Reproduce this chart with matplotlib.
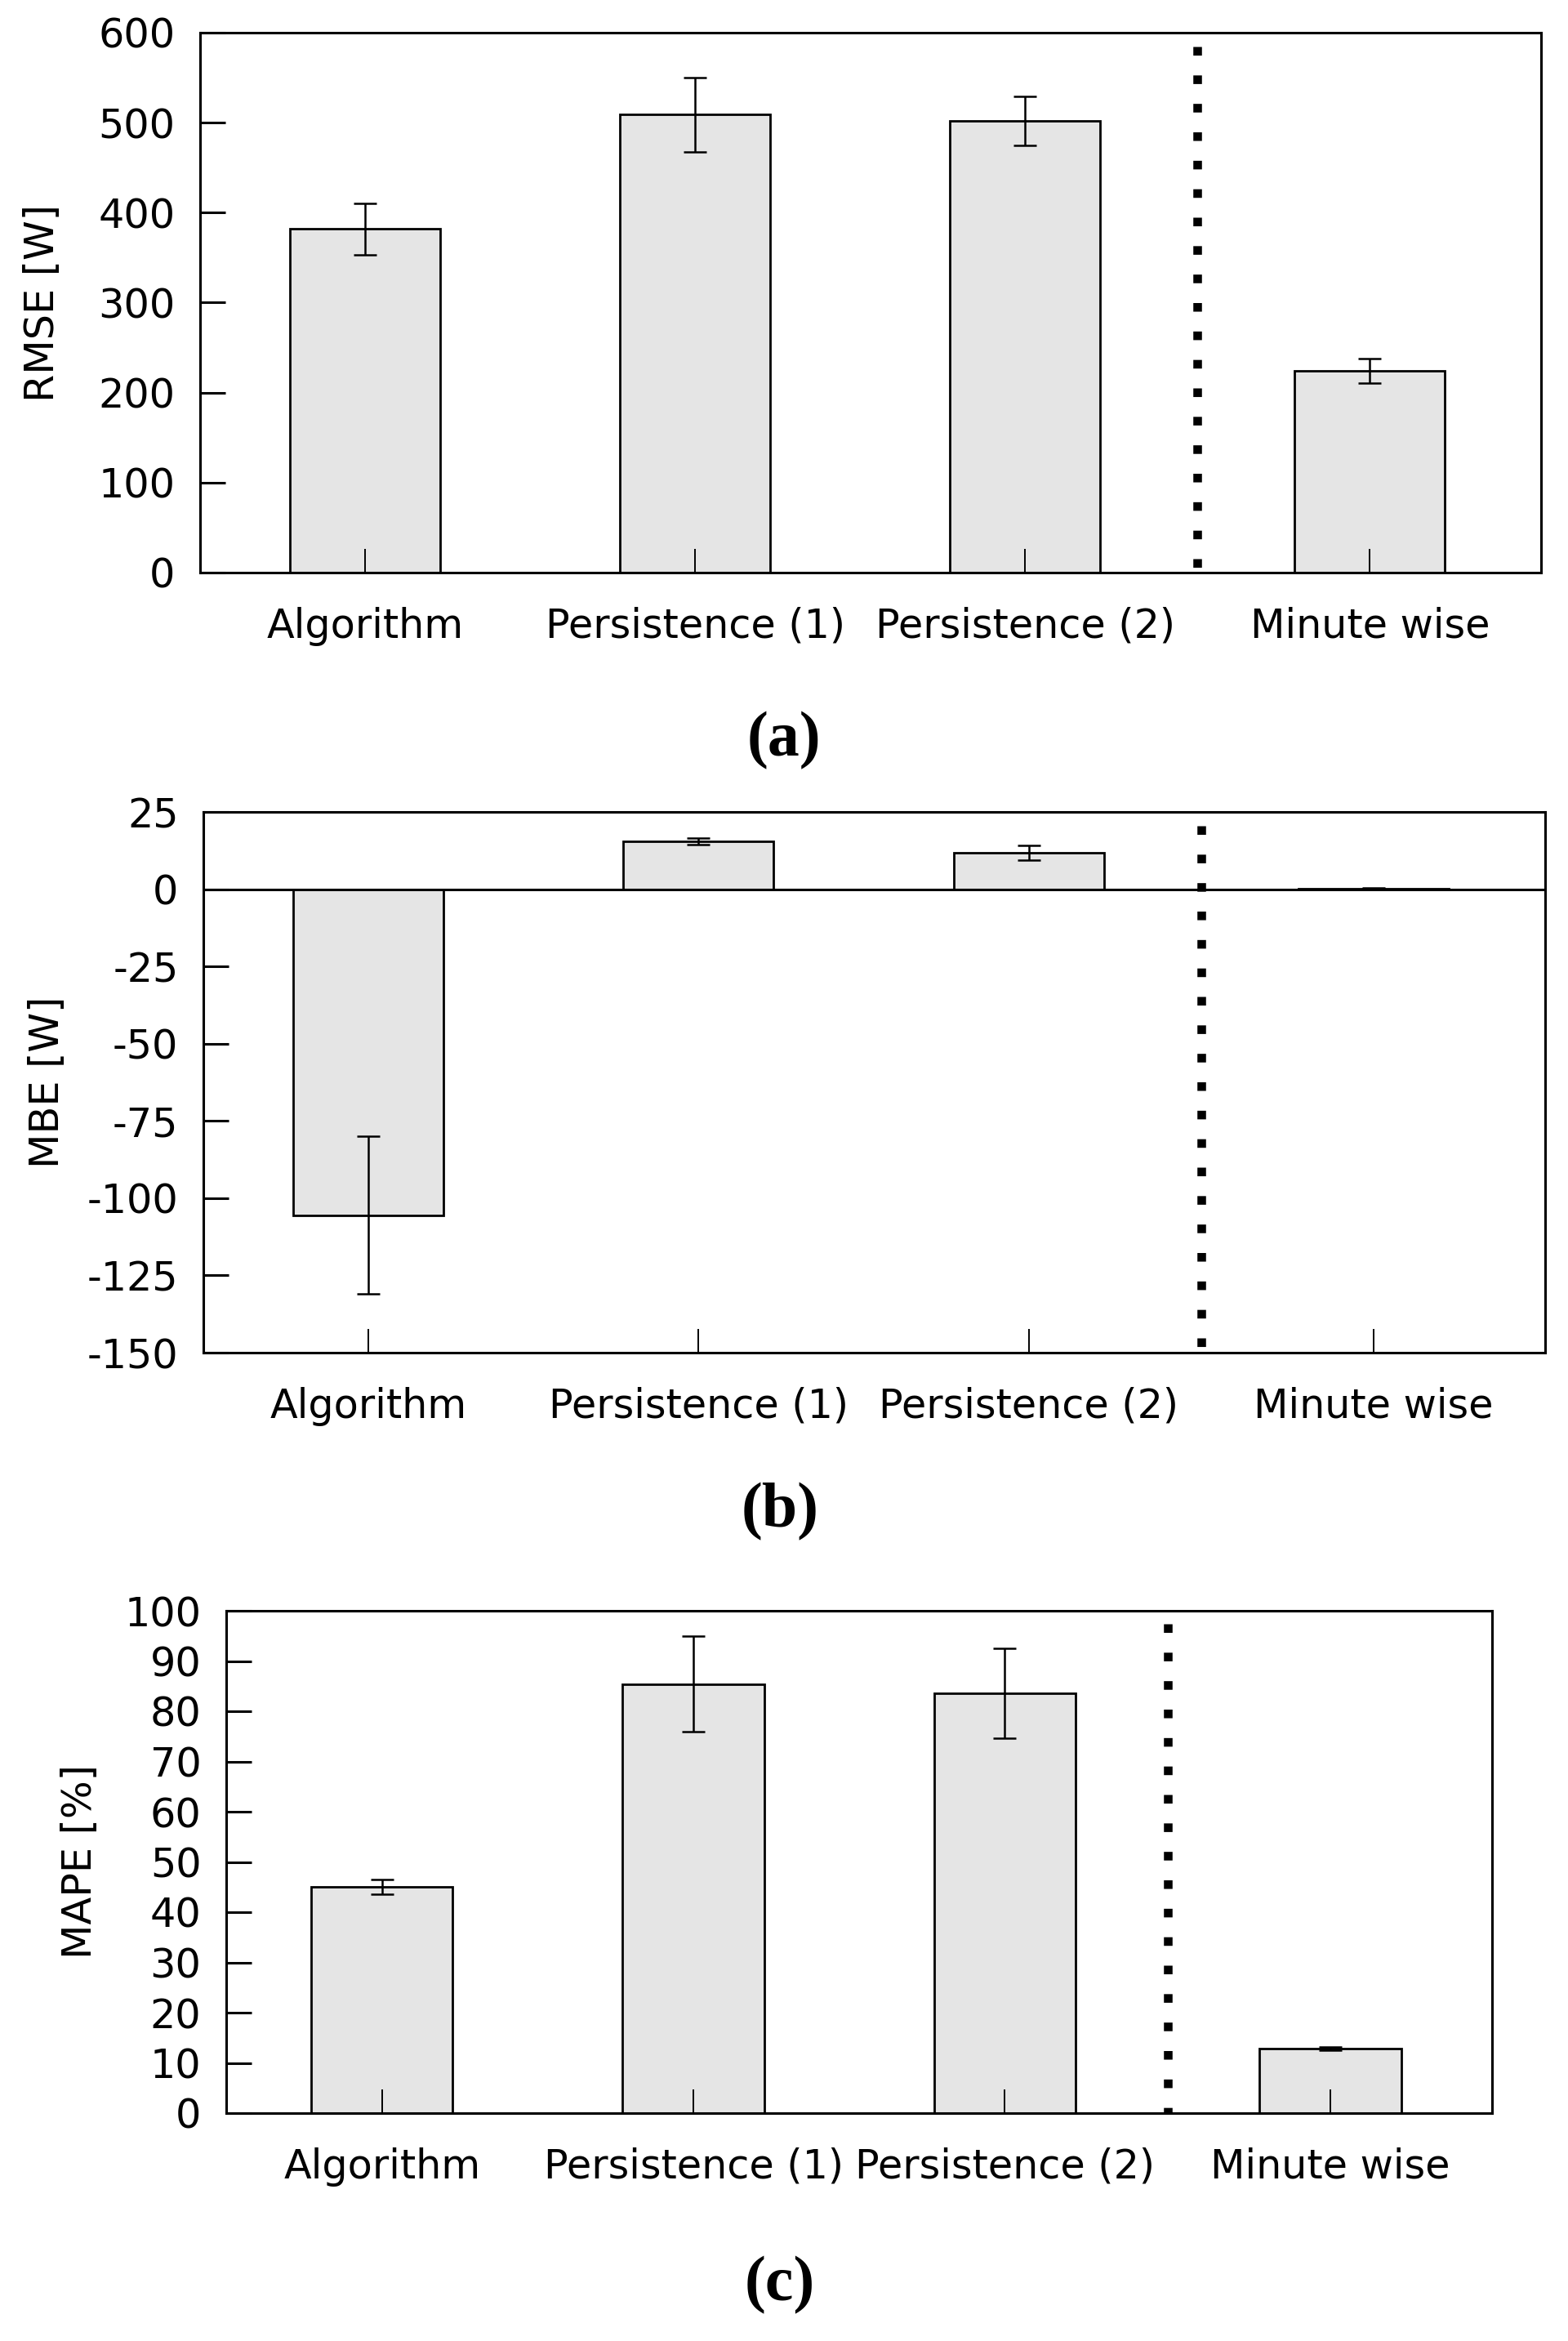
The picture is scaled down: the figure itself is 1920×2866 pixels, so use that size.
import numpy as np
import matplotlib
matplotlib.use("Agg")
import matplotlib.pyplot as plt

plt.rcParams['font.family'] = ['DejaVu Sans']
plt.rcParams['axes.unicode_minus'] = False

# ---- data ----
categories = ["Algorithm", "Persistence (1)", "Persistence (2)", "Minute wise"]
rmse = [382, 509, 502, 224]
rmse_err = [28.5, 41.5, 27.5, 13.5]
mbe = [-105.5, 15.5, 11.7, 0.2]
mbe_err = [25.5, 1.0, 2.4, 0.1]
mape = [45.0, 85.4, 83.6, 12.8]
mape_err = [1.5, 9.5, 8.9, 0.3]

rmse_ticks = [0, 100, 200, 300, 400, 500, 600]
mbe_ticks = [25, 0, -25, -50, -75, -100, -125, -150]
mape_ticks = [0, 10, 20, 30, 40, 50, 60, 70, 80, 90, 100]

W, H = 1920, 2866
fig = plt.figure(figsize=(W / 100, H / 100), dpi=100)

FS = 35.5


def axes_px(left, right, top, bottom):
    return [left / W, 1 - bottom / H, (right - left) / W, (bottom - top) / H]


panels = [
    dict(rect=axes_px(245, 1887, 40, 701), vals=rmse, errs=rmse_err, ticks=rmse_ticks,
         ylim=(0, 600), ylabel="RMSE [W]", labx=(52 - 245) / 1642, cap="(a)", capxy=(960, 907), zero=False),
    dict(rect=axes_px(249, 1892, 994, 1656), vals=mbe, errs=mbe_err, ticks=mbe_ticks,
         ylim=(-150, 25), ylabel="MBE [W]", labx=(58 - 249) / 1643, cap="(b)", capxy=(955, 1851), zero=True),
    dict(rect=axes_px(277, 1827, 1972, 2587), vals=mape, errs=mape_err, ticks=mape_ticks,
         ylim=(0, 100), ylabel="MAPE [%]", labx=(98 - 277) / 1550, cap="(c)", capxy=(955, 2798), zero=False),
]

x = np.arange(len(categories), dtype=float)
x[-1] += 0.045  # small extra gap for separated group
sep = (x[-2] + x[-1]) / 2

for p in panels:
    ax = fig.add_axes(p["rect"])
    ax.bar(x, p["vals"], width=0.455, color="#e5e5e5", edgecolor="black", linewidth=2.0, zorder=1)
    ax.errorbar(x, p["vals"], yerr=p["errs"], fmt="none", ecolor="black", elinewidth=1.8,
                capsize=10.4, capthick=1.8, zorder=3)
    if p["zero"]:
        ax.axhline(0, color="black", linewidth=2.2, zorder=2)
    ax.plot([sep, sep], [0.974, 0.0], transform=ax.get_xaxis_transform(), color="black",
            linewidth=7.6, linestyle=(0, (1, 2.3)), dash_capstyle="butt", zorder=2)
    ax.set_xlim(-0.5, 3.564)
    ax.set_ylim(*p["ylim"])
    ax.set_xticks(x)
    ax.set_xticklabels(categories, fontsize=FS)
    ax.set_yticks(p["ticks"])
    ax.set_yticklabels([str(t) for t in p["ticks"]], fontsize=FS)
    ax.tick_params(axis="x", which="both", direction="in", length=21, width=1.4, pad=30,
                   top=False, bottom=True)
    ax.tick_params(axis="y", which="both", direction="in", length=22, width=2.2, pad=22,
                   left=True, right=False)
    for s in ax.spines.values():
        s.set_linewidth(2.2)
    ax.set_ylabel(p["ylabel"], fontsize=FS, va="center", ha="center")
    ax.yaxis.set_label_coords(p["labx"], 0.5)
    cx, cy = p["capxy"]
    fig.text(cx / W, 1 - cy / H, p["cap"], fontsize=56, fontweight="bold",
             family="Liberation Serif", ha="center", va="center")

fig.savefig("out.png", dpi=100)
